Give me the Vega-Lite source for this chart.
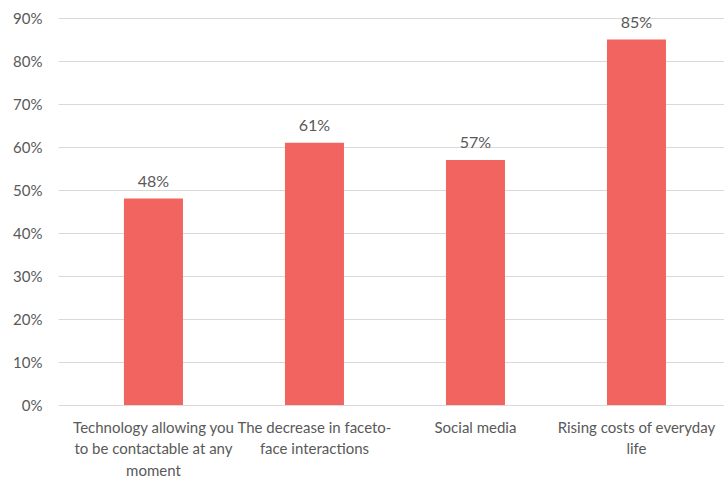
{
  "$schema": "https://vega.github.io/schema/vega-lite/v6.json",
  "autosize": {"type": "none"},
  "padding": {"left": 58, "top": 18, "right": 0, "bottom": 74},
  "width": 666,
  "height": 387,
  "background": "white",
  "config": {
    "view": {"stroke": null},
    "font": "Lato"
  },
  "data": {
    "values": [
      {"cause": "Technology allowing you to be contactable at any moment", "share": 0.48},
      {"cause": "The decrease in faceto-face interactions", "share": 0.61},
      {"cause": "Social media", "share": 0.57},
      {"cause": "Rising costs of everyday life", "share": 0.85}
    ]
  },
  "encoding": {
    "x": {
      "field": "cause",
      "type": "nominal",
      "sort": null,
      "scale": {"paddingInner": 0.6335, "paddingOuter": 0.385, "align": 0.532},
      "axis": {
        "title": null,
        "labelAngle": 0,
        "domain": false,
        "ticks": false,
        "labelFontSize": 15,
        "labelColor": "#595959",
        "labelPadding": 15,
        "labelLineHeight": 21.5,
        "labelLimit": 0,
        "labelExpr": "datum.value == 'Technology allowing you to be contactable at any moment' ? ['Technology allowing you', 'to be contactable at any', 'moment'] : datum.value == 'The decrease in faceto-face interactions' ? ['The decrease in faceto-', 'face interactions'] : datum.value == 'Rising costs of everyday life' ? ['Rising costs of everyday', 'life'] : datum.value"
      }
    },
    "y": {
      "field": "share",
      "type": "quantitative",
      "scale": {"domain": [0, 0.9], "nice": false},
      "axis": {
        "title": null,
        "format": ".0%",
        "values": [0, 0.1, 0.2, 0.3, 0.4, 0.5, 0.6, 0.7, 0.8, 0.9],
        "domain": false,
        "ticks": false,
        "labelFontSize": 15,
        "labelColor": "#595959",
        "labelPadding": 16,
        "gridColor": "#d9d9d9",
        "gridWidth": 1
      }
    }
  },
  "layer": [
    {"mark": {"type": "bar", "color": "#F2645F"}},
    {
      "mark": {"type": "text", "dy": -17, "fontSize": 16, "color": "#595959"},
      "encoding": {"text": {"field": "share", "type": "quantitative", "format": ".0%"}}
    }
  ]
}
